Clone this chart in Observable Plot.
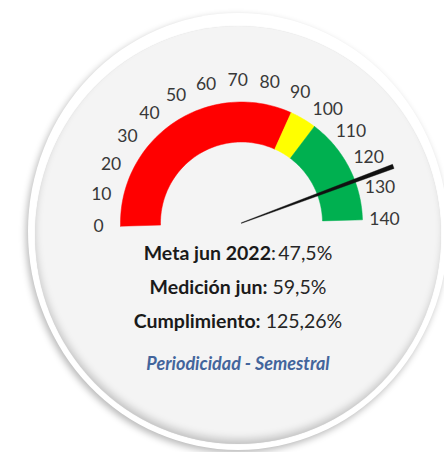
<!DOCTYPE html>
<html>
<head>
<meta charset="utf-8">
<script src="https://cdn.jsdelivr.net/npm/d3@7"></script>
<script src="https://cdn.jsdelivr.net/npm/@observablehq/plot@0.6"></script>
<style>
  html, body { margin: 0; padding: 0; background: #ffffff; }
  #stage { position: relative; width: 444px; height: 452px; overflow: hidden; background: #fff; }
  .badge-outer {
    position: absolute; left: 28px; top: 13px; width: 420px; height: 437px;
    border-radius: 50%; background: #ffffff;
    box-shadow: -2px 3px 7px rgba(0,0,0,0.28);
  }
  .badge-inner {
    position: absolute; left: 35px; top: 26px; width: 406px; height: 418px;
    border-radius: 50%; background: #f4f4f4;
    box-shadow: inset 1px -6px 8px -2px rgba(0,0,0,0.22), 0 0 1px rgba(0,0,0,0.15);
  }
  #chart { position: absolute; left: 0; top: 0; }
  .line { position: absolute; left: 0; width: 476px; text-align: center;
          font-family: Lato, "Noto Sans", sans-serif; font-size: 19.5px; line-height: 22px; color: #1a1a1a; white-space: nowrap; }
  .line b { font-weight: 700; }
  .line span { font-weight: 400; color: #262626; }
  .period { font-style: italic; font-weight: 700; color: #43659c; font-size: 18px; }
</style>
</head>
<body>
<div id="stage">
  <div class="badge-outer"></div>
  <div class="badge-inner"></div>
  <div id="chart"></div>
  <div class="line" id="l1" style="top:242px"></div>
  <div class="line" id="l2" style="top:276px"></div>
  <div class="line" id="l3" style="top:310px"></div>
  <div class="line period" id="l4" style="top:352px"></div>
</div>
<script>
// ---- data ----
const gaugeMin = 0;
const gaugeMax = 140;
const bandStart = [0, 90, 100];
const bandEnd = [90, 100, 140];
const bandColors = ["#ff0000", "#ffff00", "#00b050"];
const tickValues = [0, 10, 20, 30, 40, 50, 60, 70, 80, 90, 100, 110, 120, 130, 140];
const needleValue = 125.26;
const lineLabels = ["Meta jun 2022", "Medición jun:", "Cumplimiento:"];
const lineValues = [":\u200947,5%", " 59,5%", " 125,26%"];
const periodText = "Periodicidad - Semestral";

// ---- layout ----
const W = 444, H = 452;
const cx = 241, cy = 222.5;
const rOuter = 121, rInner = 81, rLabel = 143, rNeedle = 162;
const tilt = 1.5; // degrees

function ang(v) { return ((v - gaugeMin) / (gaugeMax - gaugeMin) * 180 - tilt) * Math.PI / 180; }
function px(v, r) { return cx - r * Math.cos(ang(v)); }
function py(v, r) { return cy - r * Math.sin(ang(v)); }

const bandMarks = bandStart.map((s, i) => {
  const e = bandEnd[i];
  const n = 60;
  const pts = [];
  for (let k = 0; k <= n; k++) { const v = s + (e - s) * k / n; pts.push({x: px(v, rOuter), y: py(v, rOuter)}); }
  for (let k = n; k >= 0; k--) { const v = s + (e - s) * k / n; pts.push({x: px(v, rInner), y: py(v, rInner)}); }
  pts.push(pts[0]);
  return Plot.line(pts, {x: "x", y: "y", fill: bandColors[i], stroke: bandColors[i], strokeWidth: 0.5, curve: "linear"});
});

// needle polygon (tapered)
const th = ang(needleValue);
const dx = -Math.cos(th), dy = -Math.sin(th);
const nx = -dy, ny = dx;
const needlePts = [
  {x: cx + nx * 0.3, y: cy + ny * 0.3},
  {x: cx + dx * rNeedle + nx * 2.2, y: cy + dy * rNeedle + ny * 2.2},
  {x: cx + dx * rNeedle - nx * 2.2, y: cy + dy * rNeedle - ny * 2.2},
  {x: cx - nx * 0.3, y: cy - ny * 0.3}
];
needlePts.push(needlePts[0]);

const chart = Plot.plot({
  width: W, height: H, margin: 0,
  x: {domain: [0, W], range: [0, W], axis: null},
  y: {domain: [0, H], range: [0, H], axis: null},
  style: {background: "transparent", overflow: "visible"},
  marks: [
    ...bandMarks,
    Plot.text(tickValues, {
      x: d => px(d, rLabel), y: d => py(d, rLabel), text: d => String(d),
      fontSize: 17.5, fill: "#383838", fontFamily: "Lato, 'Noto Sans', sans-serif",
      textAnchor: "middle", lineAnchor: "middle"
    }),
    Plot.line(needlePts, {x: "x", y: "y", fill: "#111111", stroke: "#111111", strokeWidth: 0.4, curve: "linear"})
  ]
});
document.getElementById("chart").appendChild(chart);

["l1", "l2", "l3"].forEach((id, i) => {
  const el = document.getElementById(id);
  const b = document.createElement("b"); b.textContent = lineLabels[i];
  const s = document.createElement("span"); s.textContent = lineValues[i];
  el.appendChild(b); el.appendChild(s);
});
document.getElementById("l4").textContent = periodText;
</script>
</body>
</html>
